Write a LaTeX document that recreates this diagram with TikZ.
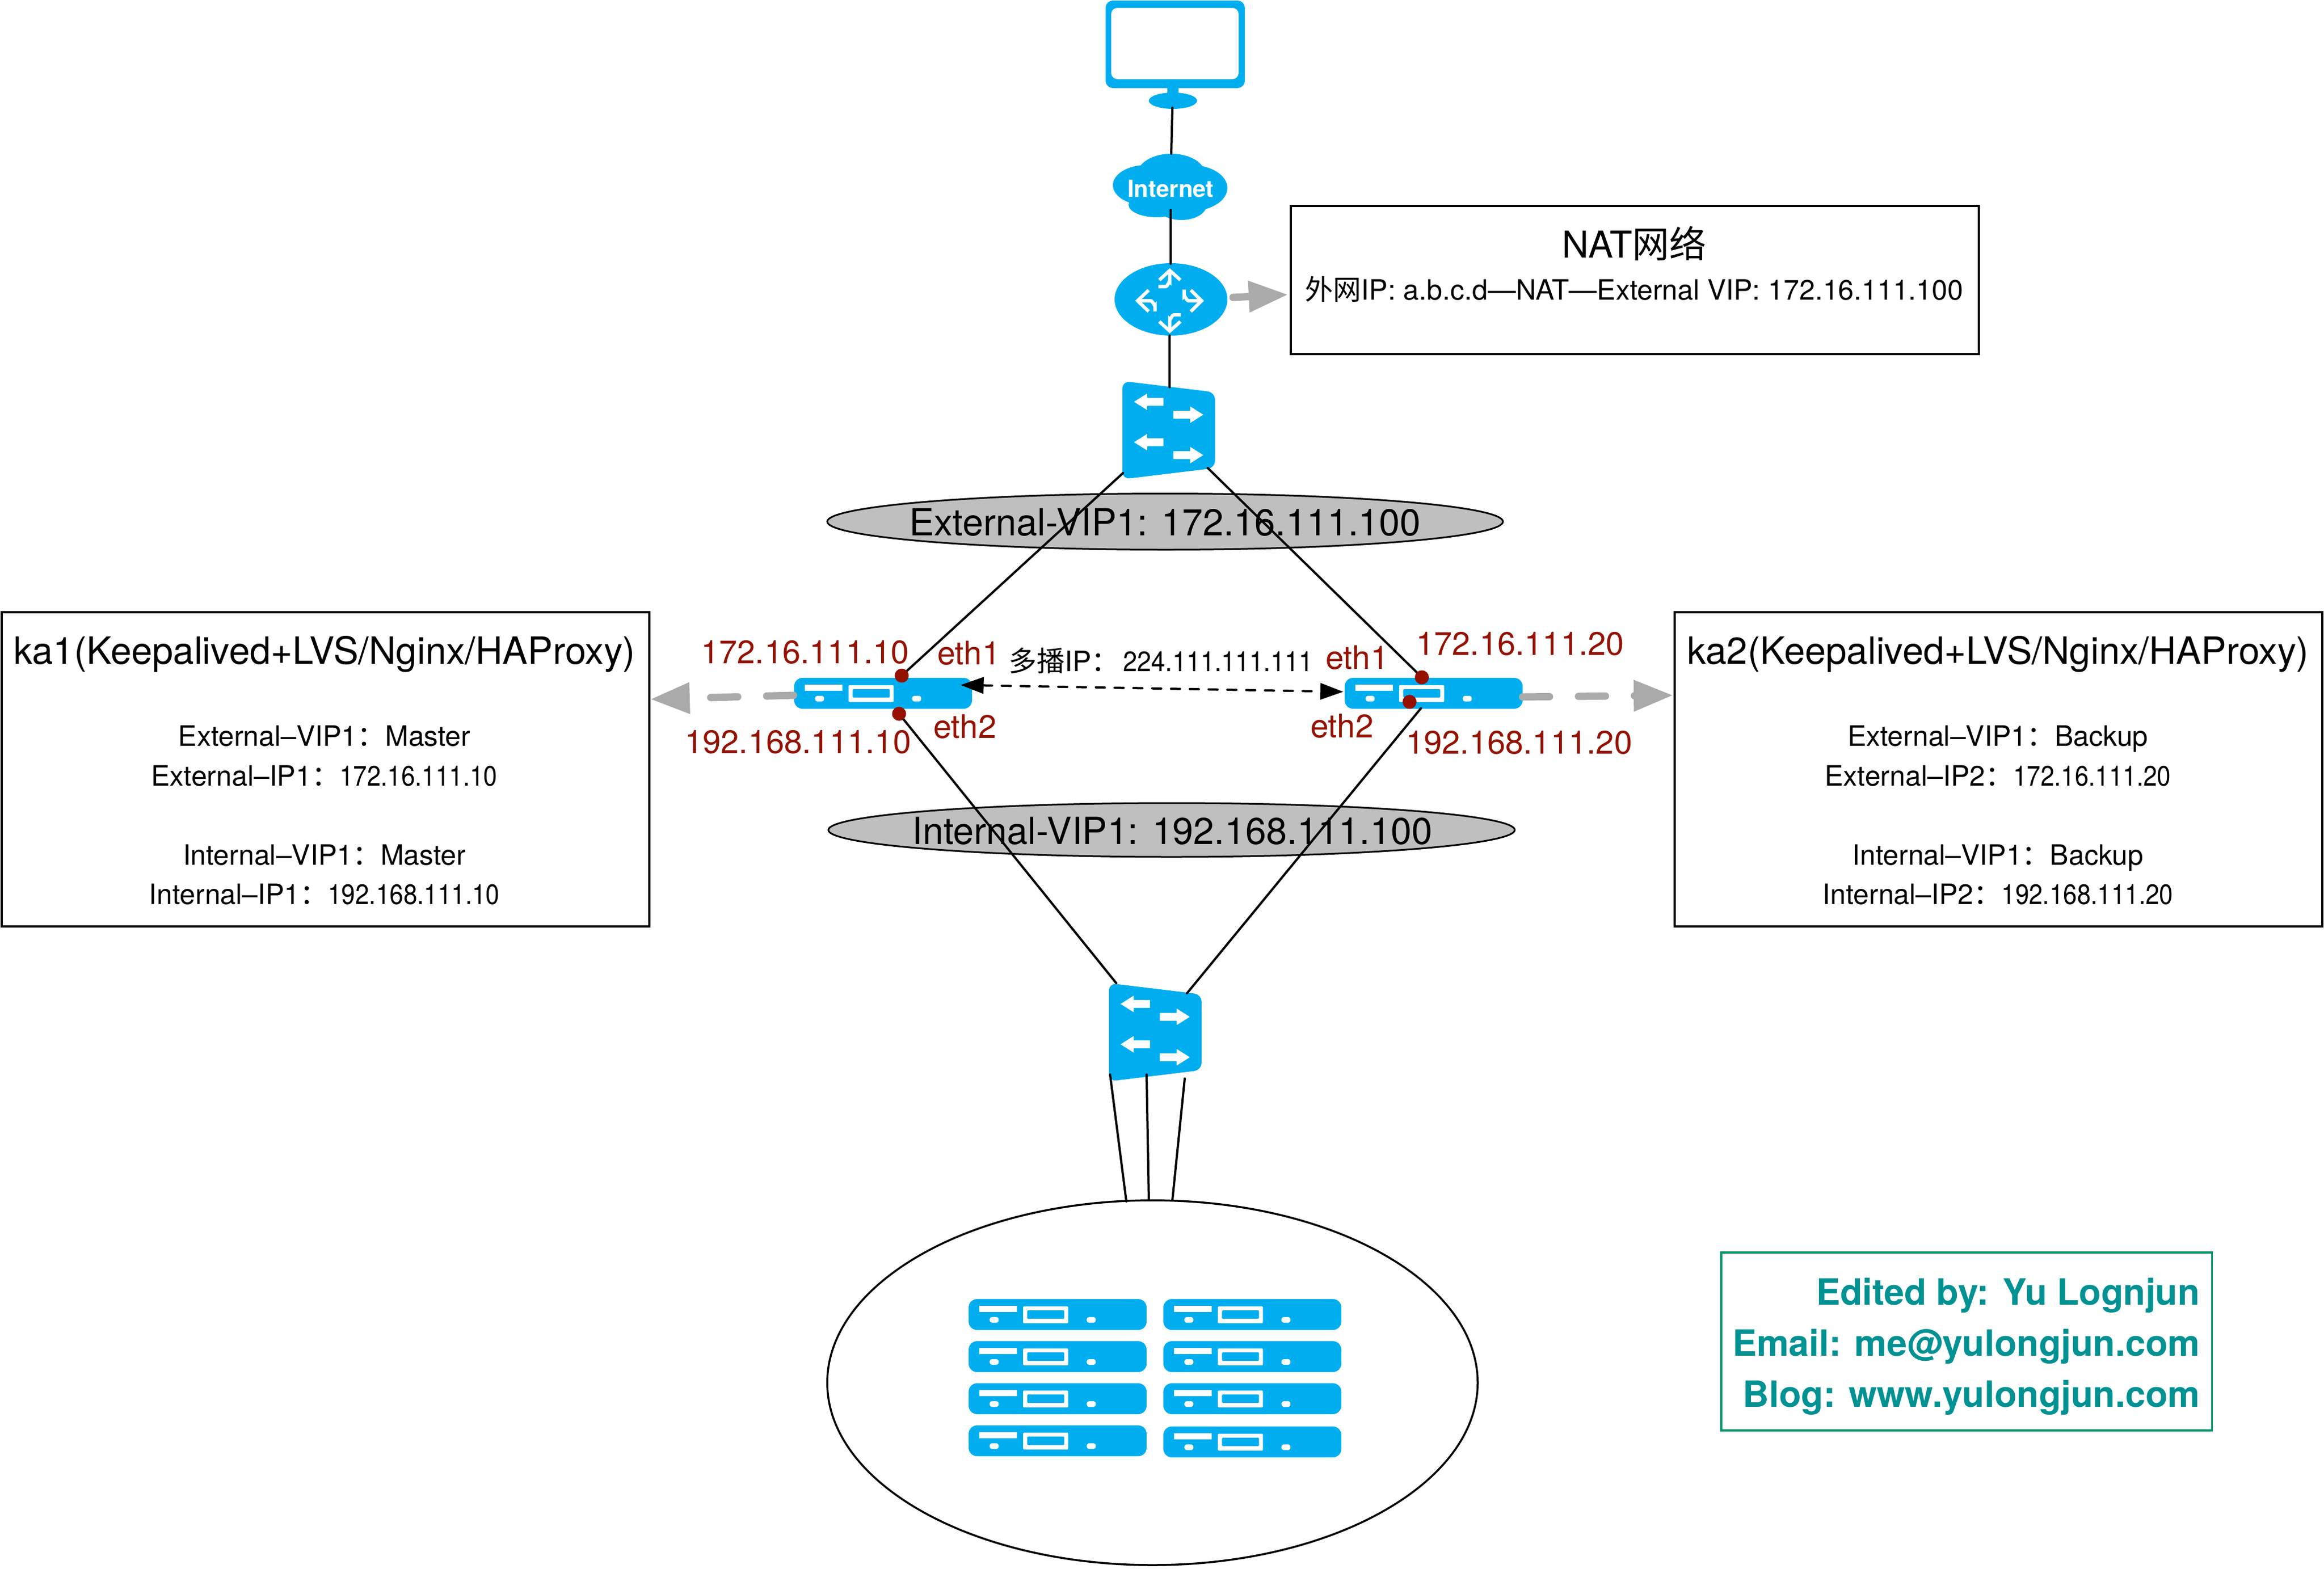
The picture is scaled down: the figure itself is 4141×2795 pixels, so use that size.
\documentclass[tikz,border=0pt]{standalone}
\usepackage{fontspec}
\setmainfont{TeX Gyre Heros}
\newfontfamily\cjk{Noto Sans CJK SC}
\usetikzlibrary{shapes.geometric,arrows.meta}
\definecolor{iconblue}{HTML}{00AEF0}
\definecolor{arrowgray}{HTML}{AAAAAA}
\definecolor{vipgray}{HTML}{BFBFBF}
\definecolor{ipred}{HTML}{941100}
\definecolor{tealtext}{HTML}{009193}
\definecolor{tealbox}{HTML}{009966}
\newcommand\fs[1]{\fontsize{#1}{#1}\selectfont}
\newcommand\cond[2]{\scalebox{#1}[1]{#2}}
\tikzset{
  iconfill/.style={fill=iconblue,draw=none},
  link/.style={draw=black,line width=4pt,line cap=round},
  infobox/.style={draw=black,line width=3.5pt,fill=white},
  vip/.style={ellipse,draw=black,line width=3pt,fill=vipgray,inner sep=0pt},
  viptext/.style={inner sep=0pt,font=\fs{66.5}},
  serverbody/.style={rectangle,rounded corners=15pt,fill=iconblue,inner sep=0pt,minimum width=317pt,minimum height=55pt},
  txt/.style={inner sep=0pt,anchor=base},
  txtL/.style={inner sep=0pt,anchor=base west},
  txtR/.style={inner sep=0pt,anchor=base east},
  ipt/.style={txtL,text=ipred,font=\fs{58}},
  small/.style={txt,font=\fs{50}},
  port/.style={circle,fill=ipred,inner sep=0pt,minimum size=25pt},
  grayarrow/.style={draw=arrowgray,line width=13pt,line cap=round,-{Triangle[length=70pt,width=53pt]}},
  sigtxt/.style={txtR,text=tealtext,font=\fs{64.5}\bfseries},
  routerarrow/.style={draw=white,line width=6pt},
}
\newcommand\serverat[3]{%
  \node[serverbody] (#1) at (#2+158.5,#3+27.5) {};
  \begin{scope}[shift={(#2,#3)}]
    \fill[white] (19.4,12) rectangle (86.4,23);
    \fill[white,rounded corners=2pt] (97,13) rectangle (177.4,43);
    \fill[iconblue,rounded corners=2pt] (104.4,20) rectangle (170.4,35);
    \fill[white,rounded corners=4pt] (37.4,32) rectangle (53.4,42);
    \fill[white,rounded corners=4pt] (210.4,32) rectangle (226.4,42);
  \end{scope}}
\newcommand\switchat[2]{%
  \begin{scope}[shift={(#1,#2)}]
    \fill[iconblue,rounded corners=13pt] (0,0) -- (165,20) -- (165,155) -- (0,175) -- cycle;
    \foreach \yy in {37,109}{
      \fill[white] (20.7,\yy) -- (44,\yy-14.7) -- (44,\yy-7) -- (73,\yy-7) -- (73,\yy+7) -- (44,\yy+7) -- (44,\yy+14.7) -- cycle;}
    \foreach \yy in {60,132}{
      \fill[white] (144,\yy) -- (120.7,\yy-14.7) -- (120.7,\yy-7) -- (90.7,\yy-7) -- (90.7,\yy+7) -- (120.7,\yy+7) -- (120.7,\yy+14.7) -- cycle;}
  \end{scope}}
\begin{document}
\begin{tikzpicture}[x=1pt,y=-1pt]
\useasboundingbox (0,0) rectangle (4141,2795);
\fill[white] (0,0) rectangle (4141,2795);

% monitor
\fill[iconblue,rounded corners=13pt] (1970,1) rectangle (2218,157);
\fill[white,rounded corners=11pt] (1980,14) rectangle (2207,141);
\fill[iconblue] (2080,150) rectangle (2100,170);
\node[ellipse,fill=iconblue,inner sep=0pt,minimum width=86pt,minimum height=29pt] (monitor) at (2090,179.5) {};

% cloud
\fill[iconblue] (2043,330) ellipse [x radius=60,y radius=36];
\fill[iconblue] (2087,310) ellipse [x radius=60,y radius=36];
\fill[iconblue] (2122,335) ellipse [x radius=65,y radius=41];
\fill[iconblue] (2061,365) ellipse [x radius=50,y radius=22];
\fill[iconblue] (2105,365) ellipse [x radius=45,y radius=27];
\node[txt,text=white,font=\fs{42}\bfseries] (cloud) at (2086,351) {Internet};

% router
\node[ellipse,fill=iconblue,inner sep=0pt,minimum width=201pt,minimum height=129pt] (router) at (2086.5,533.5) {};
\draw[routerarrow] (2065.7,499) -- (2084.3,482) -- (2103.3,499);
\draw[routerarrow] (2084.3,482) -- (2084.3,502) to[out=90,in=0] (2076.7,510.7) -- (2064,510.7);
\draw[routerarrow] (2046.7,517) -- (2027,536) -- (2046.7,555);
\draw[routerarrow] (2027,536) -- (2050,536) to[out=0,in=-90] (2058,544) -- (2058,555);
\draw[routerarrow] (2121.7,517) -- (2141,536) -- (2121.7,555);
\draw[routerarrow] (2141,536) -- (2118,536) to[out=180,in=90] (2110,528) -- (2110,516);
\draw[routerarrow] (2065.7,573) -- (2084.3,590) -- (2103.3,573);
\draw[routerarrow] (2084.3,590) -- (2084.3,569) to[out=-90,in=180] (2092,561) -- (2104,561);

% NAT box
\node[infobox,minimum width=1226pt,minimum height=264pt,inner sep=0pt] (nat) at (2913,499) {};
\node[txt,font=\fs{66}] (nattitle) at (2912,459) {NAT{\cjk 网络}};
\node[txt,font=\fs{50}] (natline) at (2912,534) {{\cjk 外网}IP: a.b.c.d—NAT—External VIP: 172.16.111.100};

% ka boxes
\node[infobox,minimum width=1154pt,minimum height=560pt,inner sep=0pt] (kaone) at (580,1371) {};
\node[infobox,minimum width=1154pt,minimum height=560pt,inner sep=0pt] (katwo) at (3561,1371) {};
\node[txt,font=\fs{67}] (kaonet) at (578,1183) {ka1(Keepalived+LVS/Nginx/HAProxy)};
\node[small] (a1) at (578,1329) {External–VIP1{\cjk ：}Master};
\node[small] (a2) at (578,1400) {External–IP1{\cjk ：}\cond{0.88}{172.16.111.10}};
\node[small] (a3) at (578,1541) {Internal–VIP1{\cjk ：}Master};
\node[small] (a4) at (578,1611) {Internal–IP1{\cjk ：}\cond{0.88}{192.168.111.10}};
\node[txt,font=\fs{67}] (katwot) at (3560,1183) {ka2(Keepalived+LVS/Nginx/HAProxy)};
\node[small] (b1) at (3560,1329) {External–VIP1{\cjk ：}Backup};
\node[small] (b2) at (3560,1400) {External–IP2{\cjk ：}\cond{0.88}{172.16.111.20}};
\node[small] (b3) at (3560,1541) {Internal–VIP1{\cjk ：}Backup};
\node[small] (b4) at (3560,1611) {Internal–IP2{\cjk ：}\cond{0.88}{192.168.111.20}};

% VIP ellipses
\node[vip,minimum width=1204pt,minimum height=100pt] (extvip) at (2076,929.5) {};
\node[vip,minimum width=1223pt,minimum height=96pt] (intvip) at (2087.5,1479) {};
\node[viptext] (extviptext) at (2076,931) {External-VIP1: 172.16.111.100};
\node[viptext] (intviptext) at (2089,1481) {Internal-VIP1: 192.168.111.100};

% switches, servers
\switchat{2000}{679}
\switchat{1976}{1752}
\serverat{srvone}{1415}{1208}
\serverat{srvtwo}{2396}{1208}

% cluster
\node[ellipse,draw=black,line width=3.5pt,fill=white,inner sep=0pt,minimum width=1159pt,minimum height=650pt] (cluster) at (2053.5,2464) {};
\serverat{c11}{1726}{2315}
\serverat{c12}{1726}{2390}
\serverat{c13}{1726}{2465}
\serverat{c14}{1726}{2540}
\serverat{c21}{2073}{2315}
\serverat{c22}{2073}{2390}
\serverat{c23}{2073}{2465}
\serverat{c24}{2073}{2542}

% connector ends
\coordinate (sOneL) at (2001,843);
\coordinate (sOneR) at (2152,834);
\coordinate (sOneT) at (2084,690);
\coordinate (sTwoTL) at (1989,1752);
\coordinate (sTwoTR) at (2115,1770);
\coordinate (sTwoB1) at (1978,1915);
\coordinate (sTwoB2) at (2043,1915);
\coordinate (sTwoB3) at (2111,1922);
\coordinate (cl1) at (2007,2141);
\coordinate (cl2) at (2047,2139);
\coordinate (cl3) at (2089,2139);
\coordinate (ethA) at (1606.7,1204);
\coordinate (ethB) at (1602,1272);
\coordinate (ethC) at (2533.5,1207);
\coordinate (ethD) at (2532,1262);
\coordinate (monB) at (2089,192);
\coordinate (cldT) at (2087,274);
\coordinate (cldB) at (2086,374);
\coordinate (rtrT) at (2086,470);
\coordinate (rtrB) at (2084,598);

% links
\draw[link] (monB) -- (cldT);
\draw[link] (cldB) -- (rtrT);
\draw[link] (rtrB) -- (sOneT);
\draw[link] (sOneL) -- (ethA);
\draw[link] (sOneR) -- (ethC);
\draw[link] (ethB) -- (sTwoTL);
\draw[link] (ethD) -- (sTwoTR);
\draw[link] (sTwoB1) -- (cl1);
\draw[link] (sTwoB2) -- (cl2);
\draw[link] (sTwoB3) -- (cl3);

% ports
\node[port] (p1) at (ethA) {};
\node[port] (p2) at (ethB) {};
\node[port] (p3) at (ethC) {};
\node[port] (p4) at (2511.6,1250.7) {};

% multicast
\coordinate (mcA) at (1711.6,1220.7);
\coordinate (mcB) at (2393.5,1232.7);
\draw[draw=black,line width=4pt,dash pattern=on 16pt off 17.5pt,line cap=round,{Triangle[length=41pt,width=29pt]}-{Triangle[length=41pt,width=29pt]}] (mcA) -- (mcB);
\node[txtL,font=\fs{50}] (mcast) at (1797,1196) {{\cjk 多播}IP{\cjk ：}\kern7pt\cond{0.9}{224.111.111.111}};

% gray arrows
\coordinate (gaA) at (2197,530);
\coordinate (gaB) at (2295,525);
\coordinate (gbA) at (1414,1239);
\coordinate (gbB) at (1159,1246);
\coordinate (gcA) at (2713,1242);
\coordinate (gcB) at (2981,1239);
\draw[grayarrow] (gaA) -- (gaB);
\draw[grayarrow,dash pattern=on 48pt off 51.6pt] (gbA) -- (gbB);
\draw[grayarrow,dash pattern=on 48pt off 51.6pt] (gcA) -- (gcB);

% IP labels
\node[ipt] (i1) at (1249,1182) {172.16.111.10};
\node[ipt] (i2) at (1220,1342) {192.168.111.10};
\node[ipt] (i3) at (1670,1184) {eth1};
\node[ipt] (i4) at (1663,1315) {eth2};
\node[ipt] (i5) at (2523,1167) {172.16.111.20};
\node[ipt] (i6) at (2505,1343) {192.168.111.20};
\node[ipt] (i7) at (2362,1192) {eth1};
\node[ipt] (i8) at (2335,1314) {eth2};

% signature
\node[draw=tealbox,line width=3.5pt,inner sep=0pt,minimum width=874.5pt,minimum height=317pt] (sig) at (3504.25,2390.5) {};
\node[sigtxt] (s1) at (3920,2325) {Edited by: Yu Lognjun};
\node[sigtxt] (s2) at (3920,2416) {Email: me@yulongjun.com};
\node[sigtxt] (s3) at (3920,2507) {Blog: www.yulongjun.com};
\end{tikzpicture}
\end{document}
